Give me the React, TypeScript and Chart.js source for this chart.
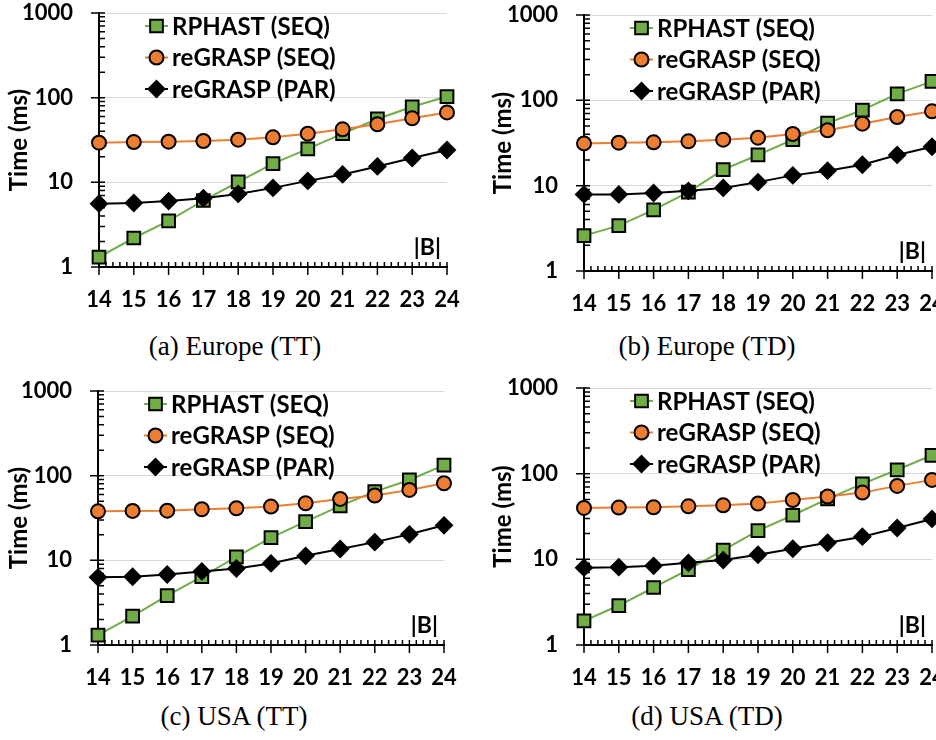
import React, { useEffect, useRef } from 'react';
import { Chart, registerables } from 'chart.js';
import { drawPoint } from 'chart.js/helpers';

Chart.register(...registerables);

// ---------- data ----------
const B_SIZES = [14, 15, 16, 17, 18, 19, 20, 21, 22, 23, 24];
const Y_MAJOR = [1, 10, 100, 1000];
const SERIES = ['RPHAST (SEQ)', 'reGRASP (SEQ)', 'reGRASP (PAR)'];
const CAPTIONS = ['(a) Europe (TT)', '(b) Europe (TD)', '(c) USA (TT)', '(d) USA (TD)'];
const Y_TITLE = 'Time (ms)';
const X_NOTE = '|B|';

const euTT_rphast = [1.31, 2.2, 3.5, 6.1, 10.1, 16.6, 24.8, 37.6, 56, 78, 103];
const euTT_seq = [29.4, 29.9, 30.2, 30.8, 31.9, 34, 37.6, 42.3, 48.4, 57, 67];
const euTT_par = [5.6, 5.7, 6.0, 6.5, 7.3, 8.6, 10.4, 12.4, 15.4, 19.4, 24.1];

const euTD_rphast = [2.6, 3.4, 5.2, 8.4, 15.4, 22.9, 34.6, 54, 77, 119, 167];
const euTD_seq = [31.3, 31.9, 32.2, 33.1, 34.6, 36.5, 40.3, 44.5, 53.3, 63.8, 74.3];
const euTD_par = [7.9, 7.9, 8.2, 8.7, 9.4, 11.0, 13.2, 15.0, 17.6, 22.9, 28.6];

const usTT_rphast = [1.31, 2.19, 3.84, 6.4, 11.0, 18.5, 28.6, 43.9, 64.9, 89, 133];
const usTT_seq = [37.9, 38.3, 38.6, 40.1, 41.2, 43.1, 47.2, 53.1, 58.2, 67.9, 81.4];
const usTT_par = [6.3, 6.4, 6.8, 7.4, 8.0, 9.2, 11.3, 13.6, 16.4, 20.3, 25.9];

const usTD_rphast = [1.91, 2.89, 4.69, 7.6, 12.8, 21.6, 32.7, 50.7, 76, 111, 164];
const usTD_seq = [39.8, 40.2, 40.5, 41.6, 42.7, 44.7, 49.3, 54, 60.1, 72, 84.6];
const usTD_par = [8.0, 8.1, 8.4, 9.1, 9.8, 11.3, 13.3, 15.6, 18.4, 23.2, 29.6];

// ---------- styles / layout ----------
const GREEN = '#70AD47';
const ORANGE = '#ED7D31';
const BLACK = '#000000';
const FONT = 'Lato, "Open Sans", sans-serif';
const TICK_SIZE = 22;
const LEGEND_SIZE = 24;
const TITLE_SIZE = 24;

type Box = { left: number; top: number; width: number; height: number };
type Area = { left: number; top: number; right: number; bottom: number };
type PanelDef = {
  caption: string;
  series: number[][];
  canvas: Box;
  area: Area;
  titleX: number;
  captionX: number;
  captionY: number;
};

const PANELS: PanelDef[] = [
  {
    caption: CAPTIONS[0],
    series: [euTT_rphast, euTT_seq, euTT_par],
    canvas: { left: 0, top: 0, width: 468, height: 320 },
    area: { left: 99, top: 13, right: 447, bottom: 267 },
    titleX: 19,
    captionX: 235,
    captionY: 346,
  },
  {
    caption: CAPTIONS[1],
    series: [euTD_rphast, euTD_seq, euTD_par],
    canvas: { left: 468, top: 0, width: 480, height: 320 },
    area: { left: 584, top: 15, right: 932, bottom: 271 },
    titleX: 503,
    captionX: 707,
    captionY: 346,
  },
  {
    caption: CAPTIONS[2],
    series: [usTT_rphast, usTT_seq, usTT_par],
    canvas: { left: 0, top: 370, width: 468, height: 320 },
    area: { left: 98, top: 391, right: 444, bottom: 645 },
    titleX: 19,
    captionX: 234,
    captionY: 716,
  },
  {
    caption: CAPTIONS[3],
    series: [usTD_rphast, usTD_seq, usTD_par],
    canvas: { left: 468, top: 370, width: 480, height: 320 },
    area: { left: 584, top: 388, right: 932, bottom: 645 },
    titleX: 503,
    captionX: 707,
    captionY: 716,
  },
];

const decorPlugin = {
  id: 'decor',
  beforeDatasetsDraw(chart: any) {
    const { ctx, chartArea, scales } = chart;
    const { left, bottom } = chartArea;
    const x = scales.x;
    const y = scales.y;
    ctx.save();
    ctx.strokeStyle = BLACK;
    ctx.lineWidth = 1.5;
    ctx.beginPath();
    for (let i = 0; i < Y_MAJOR.length; i++) {
      const d = Y_MAJOR[i];
      const py = y.getPixelForValue(d);
      ctx.moveTo(left - 8, py);
      ctx.lineTo(left + 6, py);
      if (i < Y_MAJOR.length - 1) {
        for (let k = 2; k < 10; k++) {
          const q = y.getPixelForValue(d * k);
          ctx.moveTo(left, q);
          ctx.lineTo(left + 6, q);
        }
      }
    }
    for (let i = 0; i < B_SIZES.length; i++) {
      const v = B_SIZES[i];
      const px = x.getPixelForValue(v);
      ctx.moveTo(px, bottom - 5);
      ctx.lineTo(px, bottom + 8);
      if (i < B_SIZES.length - 1) {
        for (let k = 1; k < 5; k++) {
          const q = x.getPixelForValue(v + k / 5);
          ctx.moveTo(q, bottom - 5);
          ctx.lineTo(q, bottom);
        }
      }
    }
    ctx.stroke();
    ctx.restore();
  },
  afterDraw(chart: any) {
    const { ctx, chartArea } = chart;
    const { left, top, right, bottom } = chartArea;
    ctx.save();
    ctx.font = `bold ${LEGEND_SIZE}px ${FONT}`;
    ctx.textBaseline = 'middle';
    chart.data.datasets.forEach((ds: any, i: number) => {
      const ry = top + 13 + i * 31.5;
      ctx.strokeStyle = ds.borderColor;
      ctx.lineWidth = ds.borderWidth;
      ctx.beginPath();
      ctx.moveTo(left + 46, ry);
      ctx.lineTo(left + 69, ry);
      ctx.stroke();
      ctx.fillStyle = ds.pointBackgroundColor;
      ctx.strokeStyle = ds.pointBorderColor;
      ctx.lineWidth = ds.pointBorderWidth;
      drawPoint(ctx, { pointStyle: ds.pointStyle, rotation: 0, radius: ds.pointRadius, borderWidth: ds.pointBorderWidth }, left + 57.5, ry);
      ctx.fillStyle = BLACK;
      ctx.textAlign = 'left';
      ctx.fillText(ds.label, left + 73, ry + 1);
    });
    ctx.font = `bold 23px ${FONT}`;
    ctx.textAlign = 'right';
    ctx.fillText(X_NOTE, right - 6, bottom - 19);
    ctx.restore();
  },
};

function Panel({ p }: { p: PanelDef }) {
  const ref = useRef<HTMLCanvasElement>(null);
  useEffect(() => {
    const { canvas, area } = p;
    const styles = [
      { color: GREEN, style: 'rect', radius: 9, order: 3 },
      { color: ORANGE, style: 'circle', radius: 7, order: 2 },
      { color: BLACK, style: 'rectRot', radius: 8, order: 1 },
    ];
    const tickFont = { family: FONT, size: TICK_SIZE, weight: 'bold' as const };
    const chart = new Chart(ref.current as HTMLCanvasElement, {
      type: 'line',
      data: {
        datasets: p.series.map((vals, si) => ({
          label: SERIES[si],
          data: B_SIZES.map((b, i) => ({ x: b, y: vals[i] })),
          borderColor: styles[si].color,
          backgroundColor: styles[si].color,
          borderWidth: 2,
          pointStyle: styles[si].style as any,
          pointRadius: styles[si].radius,
          pointBackgroundColor: styles[si].color,
          pointBorderColor: BLACK,
          pointBorderWidth: 2,
          order: styles[si].order,
          clip: false as any,
          tension: 0,
        })),
      },
      options: {
        animation: false,
        responsive: false,
        maintainAspectRatio: false,
        events: [],
        layout: {
          autoPadding: false,
          padding: {
            left: 0,
            top: area.top - canvas.top,
            right: canvas.left + canvas.width - area.right,
            bottom: 0,
          },
        },
        plugins: {
          legend: { display: false },
          tooltip: { enabled: false },
        },
        scales: {
          x: {
            type: 'linear',
            min: 14,
            max: 24,
            afterFit: (s: any) => {
              s.height = canvas.top + canvas.height - area.bottom;
              s.paddingLeft = 0;
              s.paddingRight = 0;
              s.paddingTop = 0;
              s.paddingBottom = 0;
            },
            afterBuildTicks: (s: any) => {
              s.ticks = B_SIZES.map((v) => ({ value: v }));
            },
            grid: { display: true, drawOnChartArea: false, drawTicks: false },
            border: { display: true, color: BLACK, width: 2 },
            ticks: {
              padding: 20,
              color: BLACK,
              font: tickFont,
              maxRotation: 0,
              autoSkip: false,
              callback: (v: any) => String(v),
            },
          },
          y: {
            type: 'logarithmic',
            min: 1,
            max: 1000,
            afterFit: (s: any) => {
              s.width = area.left - canvas.left;
              s.paddingLeft = 0;
              s.paddingRight = 0;
              s.paddingTop = 0;
              s.paddingBottom = 0;
            },
            afterBuildTicks: (s: any) => {
              s.ticks = Y_MAJOR.map((v) => ({ value: v }));
            },
            grid: { color: '#D9D9D9', lineWidth: 1, drawTicks: false },
            border: { display: true, color: BLACK, width: 2 },
            ticks: {
              padding: 26,
              color: BLACK,
              font: tickFont,
              callback: (v: any) => String(v),
            },
            title: {
              display: true,
              text: Y_TITLE,
              color: BLACK,
              font: { family: FONT, size: TITLE_SIZE, weight: 'bold' },
              padding: { top: p.titleX - canvas.left - TITLE_SIZE * 0.6, bottom: 0 },
            },
          },
        },
      },
      plugins: [decorPlugin],
    });
    return () => chart.destroy();
  }, [p]);
  const c = p.canvas;
  return (
    <canvas
      ref={ref}
      width={c.width}
      height={c.height}
      style={{ position: 'absolute', left: c.left, top: c.top, width: c.width, height: c.height }}
    />
  );
}

export default function App() {
  return (
    <div
      style={{
        position: 'absolute',
        left: 0,
        top: 0,
        width: 936,
        height: 740,
        overflow: 'hidden',
        background: '#fff',
      }}
    >
      {PANELS.map((p, i) => (
        <React.Fragment key={i}>
          <Panel p={p} />
          <div
            style={{
              position: 'absolute',
              left: p.captionX - 150,
              width: 300,
              top: p.captionY - 15,
              height: 30,
              lineHeight: '30px',
              textAlign: 'center',
              fontFamily: '"Liberation Serif", "Times New Roman", serif',
              fontSize: 27,
              color: '#000',
              whiteSpace: 'pre',
            }}
          >
            {p.caption}
          </div>
        </React.Fragment>
      ))}
    </div>
  );
}
